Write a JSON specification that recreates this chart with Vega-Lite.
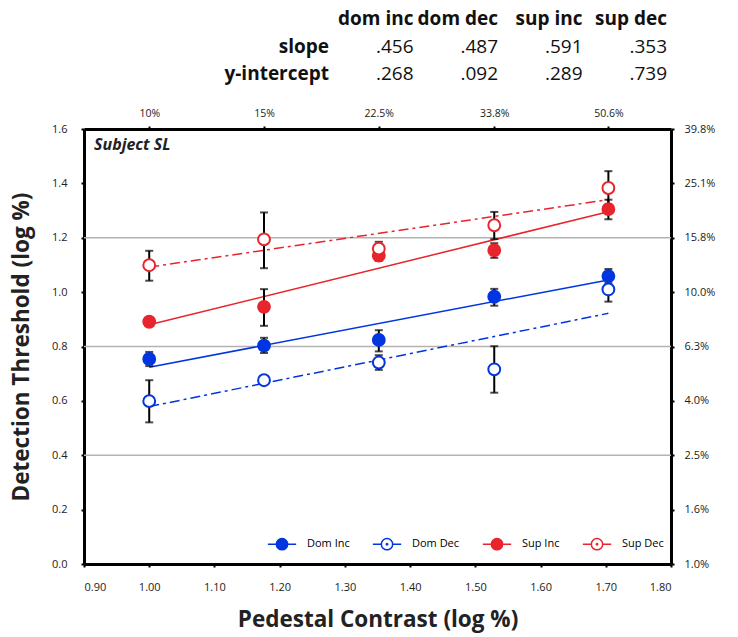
{
  "$schema": "https://vega.github.io/schema/vega-lite/v6.json",
  "padding": {"left": 10, "top": 5, "right": 5, "bottom": 5},
  "config": {
    "font": "Open Sans",
    "view": {"stroke": null},
    "concat": {"spacing": 20},
    "axis": {
      "domainColor": "black", "domainWidth": 3, "tickColor": "black", "tickWidth": 2, "tickSize": 3,
      "labelFont": "Open Sans", "labelFontSize": 11, "labelColor": "#222", "grid": false,
      "titleFont": "Open Sans", "titleFontWeight": "bold", "titleFontSize": 22.5, "titleColor": "#222"
    },
    "legend": {"labelFont": "Open Sans"}
  },
  "datasets": {
    "table": [
      {"row": "header", "col": "dom inc", "text": "dom inc"},
      {"row": "header", "col": "dom dec", "text": "dom dec"},
      {"row": "header", "col": "sup inc", "text": "sup inc"},
      {"row": "header", "col": "sup dec", "text": "sup dec"},
      {"row": "slope", "col": "label", "text": "slope"},
      {"row": "slope", "col": "dom inc", "text": ".456"},
      {"row": "slope", "col": "dom dec", "text": ".487"},
      {"row": "slope", "col": "sup inc", "text": ".591"},
      {"row": "slope", "col": "sup dec", "text": ".353"},
      {"row": "y-intercept", "col": "label", "text": "y-intercept"},
      {"row": "y-intercept", "col": "dom inc", "text": ".268"},
      {"row": "y-intercept", "col": "dom dec", "text": ".092"},
      {"row": "y-intercept", "col": "sup inc", "text": ".289"},
      {"row": "y-intercept", "col": "sup dec", "text": ".739"}
    ],
    "grid": [{"g": 0.4}, {"g": 0.8}, {"g": 1.2}],
    "fits": [
      {"series": "Dom Inc", "x": 1.0, "y": 0.724},
      {"series": "Dom Inc", "x": 1.704, "y": 1.045},
      {"series": "Dom Dec", "x": 1.0, "y": 0.579},
      {"series": "Dom Dec", "x": 1.704, "y": 0.922},
      {"series": "Sup Inc", "x": 1.0, "y": 0.880},
      {"series": "Sup Inc", "x": 1.704, "y": 1.296},
      {"series": "Sup Dec", "x": 1.0, "y": 1.092},
      {"series": "Sup Dec", "x": 1.704, "y": 1.340}
    ],
    "points": [
      {"series": "Dom Inc", "x": 1.000, "y": 0.754, "lo": 0.728, "hi": 0.780},
      {"series": "Dom Inc", "x": 1.176, "y": 0.803, "lo": 0.776, "hi": 0.832},
      {"series": "Dom Inc", "x": 1.352, "y": 0.824, "lo": 0.782, "hi": 0.860},
      {"series": "Dom Inc", "x": 1.529, "y": 0.983, "lo": 0.950, "hi": 1.012},
      {"series": "Dom Inc", "x": 1.704, "y": 1.059, "lo": 1.033, "hi": 1.085},
      {"series": "Dom Dec", "x": 1.000, "y": 0.599, "lo": 0.521, "hi": 0.676},
      {"series": "Dom Dec", "x": 1.176, "y": 0.676, "lo": 0.662, "hi": 0.690},
      {"series": "Dom Dec", "x": 1.352, "y": 0.741, "lo": 0.714, "hi": 0.768},
      {"series": "Dom Dec", "x": 1.529, "y": 0.716, "lo": 0.630, "hi": 0.801},
      {"series": "Dom Dec", "x": 1.704, "y": 1.010, "lo": 0.965, "hi": 1.055},
      {"series": "Sup Inc", "x": 1.000, "y": 0.891, "lo": 0.880, "hi": 0.902},
      {"series": "Sup Inc", "x": 1.176, "y": 0.946, "lo": 0.876, "hi": 1.011},
      {"series": "Sup Inc", "x": 1.352, "y": 1.134, "lo": 1.115, "hi": 1.150},
      {"series": "Sup Inc", "x": 1.529, "y": 1.154, "lo": 1.126, "hi": 1.180},
      {"series": "Sup Inc", "x": 1.704, "y": 1.305, "lo": 1.268, "hi": 1.340},
      {"series": "Sup Dec", "x": 1.000, "y": 1.099, "lo": 1.042, "hi": 1.152},
      {"series": "Sup Dec", "x": 1.176, "y": 1.194, "lo": 1.088, "hi": 1.293},
      {"series": "Sup Dec", "x": 1.352, "y": 1.160, "lo": 1.140, "hi": 1.185},
      {"series": "Sup Dec", "x": 1.529, "y": 1.246, "lo": 1.195, "hi": 1.295},
      {"series": "Sup Dec", "x": 1.704, "y": 1.383, "lo": 1.322, "hi": 1.445}
    ]
  },
  "vconcat": [
    {
      "width": 587,
      "height": 83,
      "data": {"name": "table"},
      "encoding": {
        "x": {"field": "col", "type": "nominal", "scale": {"type": "point", "domain": ["label", "dom inc", "dom dec", "sup inc", "sup dec"], "range": [245, 583], "padding": 0}, "axis": null},
        "y": {"field": "row", "type": "nominal", "scale": {"type": "point", "domain": ["header", "slope", "y-intercept"], "padding": 0.5}, "axis": null},
        "text": {"field": "text"}
      },
      "layer": [
        {
          "transform": [{"filter": "datum.row === 'header' || datum.col === 'label'"}],
          "mark": {"type": "text", "align": "right", "baseline": "middle", "fontSize": 19, "fontWeight": "bold", "font": "Open Sans", "color": "#111"}
        },
        {
          "transform": [{"filter": "datum.row !== 'header' && datum.col !== 'label'"}],
          "mark": {"type": "text", "align": "right", "baseline": "middle", "fontSize": 19, "fontWeight": "normal", "font": "Open Sans", "color": "#111"}
        }
      ]
    },
    {
      "width": 587,
      "height": 435,
      "resolve": {"axis": {"x": "independent", "y": "independent"}},
      "layer": [
        {
          "data": {"name": "grid"},
          "mark": {"type": "rule", "color": "#b3b3b3", "strokeWidth": 1.5},
          "encoding": {
            "y": {
              "field": "g", "type": "quantitative",
              "scale": {"domain": [0, 1.6], "nice": false, "zero": false},
              "axis": {"orient": "left", "values": [0, 0.2, 0.4, 0.6, 0.8, 1.0, 1.2, 1.4, 1.6], "format": ".1f", "labelPadding": 14, "title": "Detection Threshold (log %)", "titlePadding": 18}
            }
          }
        },
        {
          "data": {"name": "fits"},
          "transform": [{"filter": "indexof(datum.series, 'Inc') >= 0"}],
          "mark": {"type": "line", "strokeWidth": 1.5},
          "encoding": {
            "x": {
              "field": "x", "type": "quantitative",
              "scale": {"domain": [0.9, 1.8], "nice": false, "zero": false},
              "axis": {"orient": "top", "values": [1, 1.176, 1.352, 1.529, 1.704], "labelExpr": "(datum.value < 1.2 ? format(pow(10, datum.value), '.0f') : format(pow(10, datum.value), '.1f')) + '%'", "labelPadding": 8, "labelFontSize": 10.5, "title": null}
            },
            "y": {
              "field": "y", "type": "quantitative",
              "axis": {"orient": "right", "values": [0, 0.2, 0.4, 0.6, 0.8, 1.0, 1.2, 1.4, 1.6], "labelExpr": "format(pow(10, datum.value), '.1f') + '%'", "labelPadding": 10, "title": null}
            },
            "stroke": {
              "field": "series", "type": "nominal",
              "scale": {"domain": ["Dom Inc", "Dom Dec", "Sup Inc", "Sup Dec"], "range": ["#0035e0", "#0035e0", "#e8242c", "#e8242c"]},
              "legend": {"orient": "none", "legendX": 183, "legendY": 524, "direction": "horizontal", "columns": 4, "title": null, "symbolSize": 800, "symbolStrokeWidth": 1.5, "labelFontSize": 11, "labelOffset": 10, "columnPadding": 19, "padding": 0}
            }
          }
        },
        {
          "data": {"name": "fits"},
          "transform": [{"filter": "indexof(datum.series, 'Dec') >= 0"}],
          "mark": {"type": "line", "strokeWidth": 1.5, "strokeDash": [10, 4, 3, 4]},
          "encoding": {
            "x": {"field": "x", "type": "quantitative", "axis": null},
            "y": {"field": "y", "type": "quantitative", "axis": null},
            "stroke": {"field": "series", "type": "nominal"}
          }
        },
        {
          "data": {"name": "points"},
          "mark": {"type": "rule", "color": "black", "strokeWidth": 2},
          "encoding": {
            "x": {
              "field": "x", "type": "quantitative",
              "axis": {"orient": "bottom", "values": [0.9, 1.0, 1.1, 1.2, 1.3, 1.4, 1.5, 1.6, 1.7, 1.8], "format": ".2f", "labelPadding": 14, "title": "Pedestal Contrast (log %)", "titlePadding": 16}
            },
            "y": {"field": "lo", "type": "quantitative", "axis": null},
            "y2": {"field": "hi"}
          }
        },
        {
          "data": {"name": "points"},
          "mark": {"type": "tick", "orient": "horizontal", "color": "black", "size": 8, "thickness": 2},
          "encoding": {
            "x": {"field": "x", "type": "quantitative", "axis": null},
            "y": {"field": "lo", "type": "quantitative", "axis": null}
          }
        },
        {
          "data": {"name": "points"},
          "mark": {"type": "tick", "orient": "horizontal", "color": "black", "size": 8, "thickness": 2},
          "encoding": {
            "x": {"field": "x", "type": "quantitative", "axis": null},
            "y": {"field": "hi", "type": "quantitative", "axis": null}
          }
        },
        {
          "data": {"name": "points"},
          "mark": {"type": "point", "shape": "circle", "size": 140, "strokeWidth": 2, "opacity": 1, "fillOpacity": 1},
          "encoding": {
            "x": {"field": "x", "type": "quantitative", "axis": null},
            "y": {"field": "y", "type": "quantitative", "axis": null},
            "stroke": {"field": "series", "type": "nominal"},
            "fill": {
              "field": "series", "type": "nominal",
              "scale": {"domain": ["Dom Inc", "Dom Dec", "Sup Inc", "Sup Dec"], "range": ["#0035e0", "#ffffff", "#e8242c", "#ffffff"]},
              "legend": {"orient": "none", "legendX": 183, "legendY": 524, "direction": "horizontal", "columns": 4, "title": null, "symbolSize": 800, "symbolStrokeWidth": 1.5, "labelFontSize": 11, "labelOffset": 10, "columnPadding": 19, "padding": 0}
            }
          }
        },
        {
          "data": {"name": "points"},
          "transform": [{"filter": "false"}],
          "mark": {"type": "point", "size": 800, "strokeWidth": 1.5, "opacity": 1, "fillOpacity": 1},
          "encoding": {
            "x": {"field": "x", "type": "quantitative", "axis": null},
            "y": {"field": "y", "type": "quantitative", "axis": null},
            "shape": {
              "field": "series", "type": "nominal",
              "scale": {"domain": ["Dom Inc", "Dom Dec", "Sup Inc", "Sup Dec"], "range": [
                "M-1,0H-0.4M0.4,0H1M-0.4,0A0.4,0.4,0,1,1,0.4,0A0.4,0.4,0,1,1,-0.4,0Z",
                "M-1,0H-0.4M0.4,0H1M-0.4,0A0.4,0.4,0,1,1,0.4,0A0.4,0.4,0,1,1,-0.4,0ZM-0.05,0A0.05,0.05,0,1,1,0.05,0A0.05,0.05,0,1,1,-0.05,0Z",
                "M-1,0H-0.4M0.4,0H1M-0.4,0A0.4,0.4,0,1,1,0.4,0A0.4,0.4,0,1,1,-0.4,0Z",
                "M-1,0H-0.4M0.4,0H1M-0.4,0A0.4,0.4,0,1,1,0.4,0A0.4,0.4,0,1,1,-0.4,0ZM-0.05,0A0.05,0.05,0,1,1,0.05,0A0.05,0.05,0,1,1,-0.05,0Z"
              ]},
              "legend": {"orient": "none", "legendX": 183, "legendY": 524, "direction": "horizontal", "columns": 4, "title": null, "symbolSize": 800, "symbolStrokeWidth": 1.5, "labelFontSize": 11, "labelOffset": 10, "columnPadding": 19, "padding": 0}
            }
          }
        },
        {
          "data": {"values": [{"label": "Subject SL", "x": 0.9, "y": 1.6}]},
          "mark": {"type": "text", "fontStyle": "italic", "fontWeight": "bold", "fontSize": 16, "align": "left", "baseline": "middle", "dx": 10, "dy": 16, "color": "#222"},
          "encoding": {
            "x": {"field": "x", "type": "quantitative", "axis": null},
            "y": {"field": "y", "type": "quantitative", "axis": null},
            "text": {"field": "label"}
          }
        }
      ]
    }
  ]
}
